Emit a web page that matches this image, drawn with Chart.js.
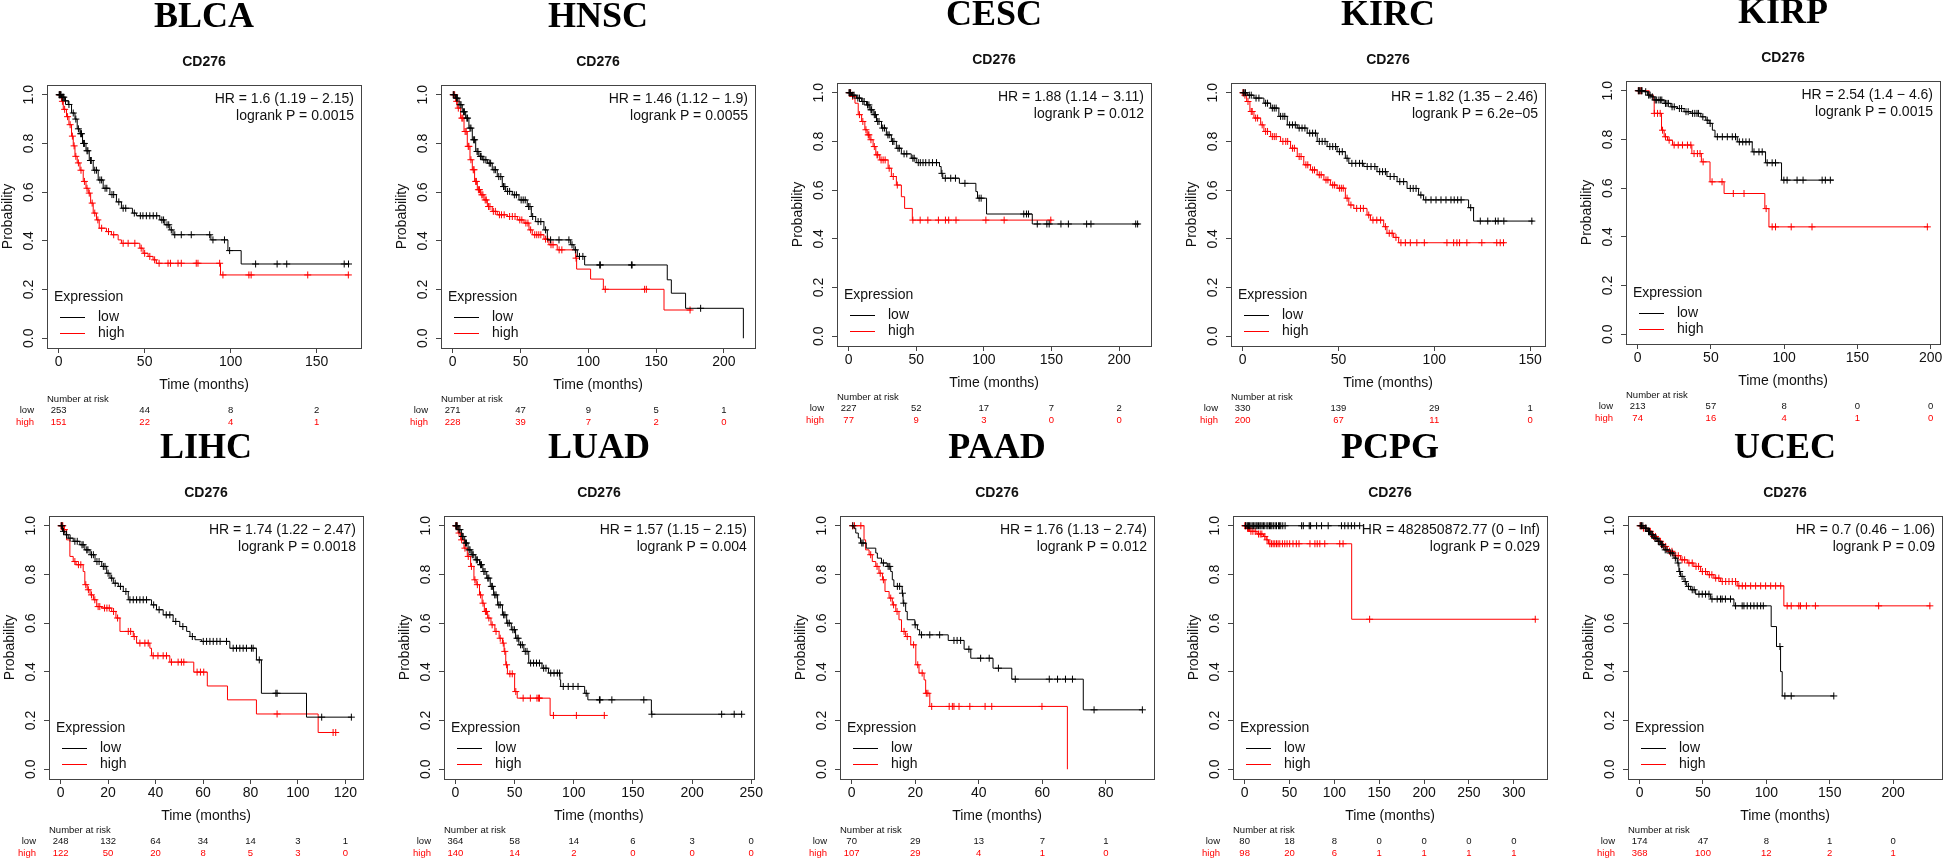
<!DOCTYPE html>
<html>
<head>
<meta charset="utf-8">
<title>CD276 survival</title>
<script src="https://cdn.jsdelivr.net/npm/chart.js@4/dist/chart.umd.min.js"></script>
<style>
  body { margin: 0; background: #fff; width: 1944px; height: 859px; overflow: hidden; position: relative; }
  .panel { position: absolute; }
</style>
</head>
<body>
<script>
// ---- data ----
// each curve row: [time, survival after that time, ...censor times on that level]
const cancers = ['BLCA', 'HNSC', 'CESC', 'KIRC', 'KIRP', 'LIHC', 'LUAD', 'PAAD', 'PCPG', 'UCEC'];
const gene = 'CD276';
const hrLabels = [
  'HR = 1.6 (1.19 \u2212 2.15)', 'HR = 1.46 (1.12 \u2212 1.9)', 'HR = 1.88 (1.14 \u2212 3.11)',
  'HR = 1.82 (1.35 \u2212 2.46)', 'HR = 2.54 (1.4 \u2212 4.6)', 'HR = 1.74 (1.22 \u2212 2.47)',
  'HR = 1.57 (1.15 \u2212 2.15)', 'HR = 1.76 (1.13 \u2212 2.74)', 'HR = 482850872.77 (0 \u2212 Inf)',
  'HR = 0.7 (0.46 \u2212 1.06)'
];
const pLabels = [
  'logrank P = 0.0015', 'logrank P = 0.0055', 'logrank P = 0.012', 'logrank P = 6.2e\u221205',
  'logrank P = 0.0015', 'logrank P = 0.0018', 'logrank P = 0.004', 'logrank P = 0.012',
  'logrank P = 0.029', 'logrank P = 0.09'
];
const timeTicks = [
  [0, 50, 100, 150], [0, 50, 100, 150, 200], [0, 50, 100, 150, 200], [0, 50, 100, 150],
  [0, 50, 100, 150, 200], [0, 20, 40, 60, 80, 100, 120], [0, 50, 100, 150, 200, 250],
  [0, 20, 40, 60, 80], [0, 50, 100, 150, 200, 250, 300], [0, 50, 100, 150, 200]
];
const riskLow = [
  [253, 44, 8, 2], [271, 47, 9, 5, 1], [227, 52, 17, 7, 2], [330, 139, 29, 1],
  [213, 57, 8, 0, 0], [248, 132, 64, 34, 14, 3, 1], [364, 58, 14, 6, 3, 0],
  [70, 29, 13, 7, 1], [80, 18, 8, 0, 0, 0, 0], [174, 47, 8, 1, 0]
];
const riskHigh = [
  [151, 22, 4, 1], [228, 39, 7, 2, 0], [77, 9, 3, 0, 0], [200, 67, 11, 0],
  [74, 16, 4, 1, 0], [122, 50, 20, 8, 5, 3, 0], [140, 14, 2, 0, 0, 0],
  [107, 29, 4, 1, 0], [98, 20, 6, 1, 1, 1, 1], [368, 100, 12, 2, 1]
];
const yTicks = [0, 0.2, 0.4, 0.6, 0.8, 1];

const blcaLow = [
  [0, 1, 0.3, 0.6, 1, 1.4], [1.7, 0.99, 2, 2.5, 3], [3.5, 0.975, 4], [5.6, 0.96, 6],
  [7.5, 0.925, 8.5], [9.5, 0.9, 10], [10.8, 0.86, 11.5], [12.4, 0.84, 12.8, 13.3],
  [13.9, 0.8, 14.5, 15], [15.9, 0.77, 16.5, 17], [17.8, 0.73, 18.5, 19], [20.1, 0.69, 21, 22],
  [23, 0.65, 24, 25], [25.9, 0.616, 27, 28], [29.8, 0.59, 31, 32], [33.6, 0.56, 35],
  [36.5, 0.534, 37.5, 39], [42.9, 0.514, 44], [45.2, 0.503, 47.5, 49, 51, 53, 55, 57],
  [58.8, 0.486, 60, 61], [61.7, 0.466, 63, 64], [64.6, 0.445, 65.5],
  [66.5, 0.425, 67.5, 71.3, 77.1, 87.8], [88.5, 0.404, 89.7, 96.4], [98.4, 0.36, 99.4],
  [106.1, 0.305, 114.5, 127, 132.6, 166, 168.5], [169, 0.305]
];
const blcaHigh = [
  [0, 1, 0.5, 1], [1.7, 0.973, 2.2], [2.7, 0.94, 3.5], [4.6, 0.91, 5.2], [6, 0.877, 6.7],
  [7.5, 0.83, 8], [8.5, 0.79, 9], [9.5, 0.747, 10], [10.8, 0.72, 11.5], [12.4, 0.69, 13],
  [14.3, 0.644, 15], [15.9, 0.616, 16.5], [17.2, 0.596, 17.8], [18.6, 0.555, 19.5],
  [20.1, 0.514, 21], [22, 0.486, 22.8], [23.6, 0.452, 25], [27.8, 0.438, 29], [30.7, 0.425, 32],
  [34.6, 0.404], [36.5, 0.39, 37.5, 40.4, 44.3], [47.2, 0.37, 48], [49.1, 0.349, 50],
  [52, 0.336, 53], [54.9, 0.322, 55.8], [56.8, 0.308, 58.4, 63.6, 65, 69.4, 71.3, 80, 81, 93.6],
  [94.1, 0.26, 95.5, 110.6, 111.9, 144.8, 168.4], [168.9, 0.26]
];
const hnscLow = [
  [0, 1, 0.5, 1], [2.2, 0.986, 2.8, 3.5], [4.7, 0.959, 5.5, 6.2], [7.1, 0.93, 8, 8.7],
  [9.6, 0.904, 10.5, 11], [12, 0.863, 12.8, 13.5], [14.5, 0.815, 15.5, 16.2], [17, 0.767, 18, 18.7],
  [19.4, 0.747, 20.5, 21], [21.9, 0.733, 23, 24.5], [25.6, 0.719, 27, 28], [29.2, 0.692, 30.5, 31.5],
  [32.9, 0.664, 34, 35.5], [36.6, 0.623, 37.5, 38.5], [39.1, 0.603, 40.5, 42], [44, 0.589, 45.5, 47],
  [48.9, 0.568, 50.5, 52, 53.5], [55, 0.541, 56, 57], [58, 0.5, 59], [61.2, 0.479, 63, 65],
  [67.3, 0.445, 68.5], [69.8, 0.404, 72.2, 78.4, 85.7], [87, 0.384, 88], [89.4, 0.363, 90.5],
  [91.9, 0.336, 93.5, 96], [97.3, 0.301, 108.4, 108.9, 131.8, 132.3], [158.2, 0.24], [161.2, 0.185],
  [171.7, 0.123, 182.8], [214.3, 0]
];
const hnscHigh = [
  [0, 1, 0.5, 1.5], [2.2, 0.973, 3], [3.4, 0.945, 4.2], [5.9, 0.904, 6.8, 7.5], [8.4, 0.849, 9.2, 10],
  [10.8, 0.788, 11.5, 12], [12.8, 0.733, 13.5], [14.5, 0.692, 15.2, 15.8], [16.2, 0.644, 17, 17.5],
  [18.2, 0.61, 19, 19.8], [20.6, 0.589, 21.5, 22.3], [23.1, 0.568, 24, 24.8], [25.6, 0.541, 26.5, 27.5],
  [29.2, 0.521, 30, 31.5], [32.9, 0.507, 34.5, 36, 38], [40.3, 0.5, 42, 44, 46], [47.7, 0.486, 49.5, 51],
  [52.6, 0.473, 54, 55.5], [56.3, 0.445, 57.5], [58.7, 0.425, 60.5, 62, 63.5, 65], [67.3, 0.407, 68.5, 70],
  [71, 0.384, 72.5, 74], [77.1, 0.363, 78.5, 80.5], [90.7, 0.329, 91], [91.4, 0.284], [101.7, 0.243],
  [111.1, 0.201, 112.5, 141.5, 142.8], [155.8, 0.116, 175], [175.9, 0.116]
];
const cescLow = [
  [0, 1, 0.3, 0.8, 1.3], [2.2, 0.99, 3, 4], [5.9, 0.978, 6.8, 8], [9.6, 0.964, 10.5, 11.5],
  [13.2, 0.95, 14, 15], [15.7, 0.93, 16.5, 17], [18.1, 0.91, 19, 19.8], [20.6, 0.882, 21.5, 22.5],
  [24.3, 0.855, 25.2, 26.5], [27.9, 0.827, 29, 30], [31.6, 0.8, 32.5, 33.5], [35.3, 0.772, 36.5, 37.5],
  [39, 0.749, 41, 43], [46.3, 0.731, 47.5, 48.5], [50, 0.713, 51.5, 53, 55, 57, 59.5, 62, 65],
  [67.2, 0.697], [68.4, 0.669, 69], [69.6, 0.649, 71.5, 75.5, 79], [81.9, 0.628, 86], [94.1, 0.594],
  [95.3, 0.567, 96.5, 98], [102, 0.502, 129.5, 131.5, 133],
  [135.8, 0.461, 139.5, 146.6, 148.3, 157, 162.5, 176, 179.2, 212.3, 213.7], [215, 0.461]
];
const cescHigh = [
  [0, 1, 0.5, 1.5], [2.2, 0.985, 3], [4.7, 0.957], [7.1, 0.91, 8], [9.6, 0.882, 10.5],
  [12, 0.848, 12.8], [13.7, 0.827, 14.5, 15], [15.7, 0.807, 16.5], [18.1, 0.779, 19],
  [20.1, 0.745, 21, 21.5], [23, 0.724, 24, 25.5, 27], [29.2, 0.69, 30], [31.6, 0.656, 33],
  [35.3, 0.621, 36], [39, 0.573], [41.4, 0.525],
  [47.1, 0.477, 47.5, 52.9, 58.6, 66.4, 71.6, 74, 79.4, 101.5, 115, 149.5], [150.5, 0.477]
];
const kircLow = [
  [0, 1, 0.3, 0.8, 1.5], [2.4, 0.99, 3.5, 4.5], [5.9, 0.978, 7, 8.5], [11.1, 0.957, 12, 13],
  [14.6, 0.937, 15.5, 16.5, 17.5], [18.9, 0.903, 19.8, 21, 22], [23.3, 0.868, 24.5, 26, 27.5],
  [28.5, 0.855, 29.5, 31, 32.5], [33.7, 0.834, 35, 36.5, 38], [38.9, 0.8, 40, 41.5, 43],
  [44.1, 0.779, 45.5, 47, 48.5], [49.3, 0.758, 50.5, 52], [53.6, 0.731, 54.5],
  [55.4, 0.71, 57, 59, 61, 62.5], [63.2, 0.697, 65, 67, 69], [70.1, 0.676, 71.5, 73, 74.5],
  [75.3, 0.656, 77, 79], [80.6, 0.635, 82, 84], [85.8, 0.607, 87.5, 89, 90.5], [91.8, 0.58, 93],
  [94.4, 0.56, 95.6, 98.3, 100.9, 103.5, 106.1, 108.7, 110.4, 112.2, 114], [117.9, 0.528, 119],
  [120.5, 0.473, 124, 127.9, 131.9, 133.3, 136.3, 150.9], [151.7, 0.473]
];
const kircHigh = [
  [0, 1, 0.2, 0.5], [0.7, 0.99, 1.2], [2.1, 0.964, 2.8], [3.8, 0.923, 4.5, 5], [5.9, 0.896, 6.8, 7.8],
  [9.4, 0.868, 10.2], [11.1, 0.841, 12, 13], [14.6, 0.82, 15.5, 16.5, 17.5], [19.8, 0.8, 21, 22.5, 23.5],
  [25, 0.772, 26, 27], [28.5, 0.738, 29.5, 30.5], [31.9, 0.704, 33, 34], [35.4, 0.683, 36.5, 37.5],
  [38.9, 0.663, 40, 41], [42.4, 0.642, 43.5, 44.5], [45.8, 0.621, 47, 48], [49.3, 0.608, 50.5, 51.5, 52.5],
  [53.6, 0.567, 54.5], [55.4, 0.539, 56.5], [58, 0.525, 59.5, 61.5, 63], [64.9, 0.498, 65.8],
  [66.7, 0.477, 68, 70, 72], [73.6, 0.45, 74.5], [75.3, 0.423, 76.5, 78], [78.8, 0.406, 80],
  [81.4, 0.384, 82.6, 84.9, 87.5, 90.9, 94.8, 106.6, 110.1, 111.8, 113.2, 117, 124.8, 132.6, 134.4, 136.1],
  [137, 0.384]
];
const kirpLow = [
  [0, 1, 0.5, 1, 1.5, 2.5, 3], [4.5, 0.996, 5.5], [6.8, 0.982, 7.5, 8.5], [9.1, 0.975, 10],
  [11.3, 0.962, 12, 13, 14.5, 15.5, 16.5], [18.1, 0.948, 19, 20, 21], [22.7, 0.934, 23.5, 25],
  [27.2, 0.927, 28.5, 30], [31.7, 0.914, 33, 34.5], [36.3, 0.907, 37.5, 39, 40.5, 41.5],
  [43.1, 0.893, 44.5], [46.5, 0.879, 47.5], [48.8, 0.866, 49.5], [51, 0.838],
  [52.8, 0.811, 54.4, 57.8, 61.2, 64.6, 66.8], [68, 0.79, 69.4, 71.7, 73.9, 76.2],
  [78.2, 0.749, 79.4, 82.8, 85], [87.3, 0.704, 88.4, 91.8, 94.1],
  [98.2, 0.633, 99.8, 102, 108.8, 112.9, 125.9, 128.1, 131.5], [133.8, 0.633]
];
const kirpHigh = [
  [0, 1, 0.5, 1.8, 2.7], [7.9, 0.982], [10.7, 0.962], [11.3, 0.907, 11.4, 13.6, 15.4],
  [16.3, 0.838, 17], [18.1, 0.811, 19], [20.4, 0.797, 21.5], [23.8, 0.777, 24.9, 27.7, 30.6, 34, 36.3],
  [37, 0.742, 38.5, 40.8, 42.6], [43.5, 0.708, 44.7], [49.4, 0.626, 50.8, 57.6], [59, 0.578, 65.3, 72.6],
  [86.8, 0.516, 87.7], [89.6, 0.441, 91.8, 94.1, 104.8, 119, 197.7], [198.4, 0.441]
];
const lihcLow = [
  [0, 1, 0.3, 0.6], [0.8, 0.977, 1.2], [1.8, 0.963, 2.5], [3.2, 0.949, 4], [5.3, 0.936, 6, 7],
  [8.1, 0.922, 9, 9.5], [10.2, 0.901, 11, 11.5], [12.4, 0.881, 13, 13.8], [14.5, 0.853, 15.3, 16.2],
  [17.3, 0.833, 18, 18.7], [19.4, 0.805, 20], [20.8, 0.785, 21.5], [22.2, 0.764, 23], [24.3, 0.751, 25.2],
  [26.4, 0.73, 27.5], [28.5, 0.696, 29.2, 30.6, 32, 33.4, 34.8, 36.2], [38.3, 0.675, 39.2],
  [40.4, 0.655, 41.5], [43.2, 0.634, 44.5, 46], [47.4, 0.607, 48.5], [50.2, 0.586, 51.5], [53.1, 0.566],
  [54.5, 0.545, 55.5], [56.6, 0.532], [59.4, 0.525, 60.1, 61.5, 62.9, 64.3, 65.8, 67.2, 69.9],
  [71.3, 0.497, 72.7, 74.1, 75.5, 76.9, 78.3, 80.4, 81.1], [82.5, 0.449, 83.7], [84.6, 0.312, 90.7, 91.2],
  [103.6, 0.214, 110], [122.5, 0.214, 122.5]
];
const lihcHigh = [
  [0, 1, 0.2, 0.6, 0.9], [1.1, 0.984, 1.6], [2.5, 0.942], [3.9, 0.874], [5.3, 0.853, 6],
  [6.5, 0.84, 7.5, 8.5], [9.5, 0.812], [10.2, 0.758, 10.6], [11.2, 0.737, 11.7], [12.4, 0.716, 13],
  [13.8, 0.696, 14.4], [15.2, 0.668, 15.8, 16.5], [17.3, 0.662, 18.5, 19.5, 20.5], [21.5, 0.648, 22.3],
  [23.3, 0.621, 24], [25, 0.566, 28.5, 29.5], [30.6, 0.545, 31], [32, 0.518, 33.4, 35.5, 36.9],
  [37.6, 0.497], [38.3, 0.466, 39, 41, 43.2, 44.6], [46, 0.44, 46.7, 49.5, 50.9, 51.9],
  [56.1, 0.399, 57.5, 58.9, 60.3], [61.8, 0.342], [70.3, 0.285], [82.5, 0.227, 91.2],
  [108.5, 0.151, 114.8, 115.9], [116.5, 0.151]
];
const luadLow = [
  [0, 1, 0.3, 0.8, 1.4], [2.2, 0.984, 3, 3.8], [5, 0.956, 5.8, 6.5], [7.8, 0.929, 8.5, 9.3],
  [10.6, 0.901, 11.5, 12.3], [13.3, 0.881, 14.2, 15], [16.7, 0.86, 17.6, 18.5], [20.3, 0.84, 21.2, 22],
  [23.1, 0.812, 24, 25], [26.4, 0.785, 27.3, 28.2], [29.4, 0.751, 30.3, 31.2], [32.2, 0.716, 33.2, 34.3],
  [35.6, 0.675, 36.6, 37.8], [39.7, 0.634, 40.7, 41.8], [43.3, 0.6, 44.2, 45.5], [47.2, 0.573, 48.5, 49.8],
  [50.8, 0.538, 52, 53], [53.6, 0.511, 55, 56.5], [57.8, 0.484, 59, 60.5], [61.9, 0.436, 63.5, 66, 68.5, 71],
  [73.1, 0.415, 74.5, 76.5], [78.6, 0.395, 80.5, 83.3, 86.1, 88], [88.3, 0.367],
  [88.9, 0.34, 91.1, 95.3, 99.4, 103.6], [109.2, 0.312, 110.5], [111.9, 0.285, 121.7, 122.2, 132.2, 159.2],
  [165.6, 0.226, 166, 225, 235.6, 241.9], [242.5, 0.226]
];
const luadHigh = [
  [0, 1, 0.3, 0.8, 1.3], [2.2, 0.97, 3], [4.4, 0.942, 5.2], [7.2, 0.908, 8], [10, 0.874, 10.8],
  [12.8, 0.833, 13.5], [15.6, 0.778, 16.4], [17.5, 0.758, 18.5], [20.3, 0.716, 21.2], [22.5, 0.682, 23.3],
  [24.4, 0.648, 25.3, 26.2], [27.2, 0.621, 28.2], [30, 0.593, 31], [33.3, 0.566, 34.3], [36.9, 0.538, 37.8],
  [39.7, 0.518, 40.4], [41.1, 0.484, 41.7], [42.5, 0.429, 43.2], [43.9, 0.392, 46, 48], [50, 0.319, 51],
  [52.2, 0.292, 57.2, 63.3, 68.9, 70.3, 71], [80, 0.221, 82.8, 102.2, 125.8], [125.8, 0.221]
];
const paadLow = [
  [0, 1, 0.4], [0.7, 0.99], [1.3, 0.97], [2.1, 0.95], [2.8, 0.929, 3.2, 3.6], [4.6, 0.908],
  [7.6, 0.888], [8.1, 0.867], [9.4, 0.847, 10], [11.2, 0.833, 11.5, 12], [12.3, 0.812], [12.8, 0.778],
  [13.3, 0.751, 14.4, 15.1], [15.9, 0.723, 16], [16.2, 0.682, 16.4], [17, 0.648], [17.5, 0.614],
  [19.9, 0.593, 20], [20.7, 0.573], [21.4, 0.552, 22, 24.6, 27.7], [30.4, 0.529, 32.2, 33.2, 34.3],
  [35.4, 0.493, 36.9], [37.5, 0.456, 40.6, 43.3], [44.5, 0.415, 46.2],
  [50.4, 0.37, 51.5, 62.2, 64.8, 67.3, 69.5], [72.9, 0.244, 76.3, 91.5], [91.5, 0.244]
];
const paadHigh = [
  [0, 1, 0.3, 0.9, 2.9], [3.9, 0.942], [4.4, 0.901], [5.5, 0.881, 6], [6.5, 0.853], [7.6, 0.833, 8],
  [8.6, 0.805, 9], [9.7, 0.778, 10], [10.5, 0.73], [11.8, 0.703, 12.3], [12.8, 0.675, 13.2],
  [13.9, 0.648, 14.3], [14.9, 0.614], [15.7, 0.566, 16.5], [17, 0.545, 17.5], [18.6, 0.511, 19.5],
  [20.2, 0.429, 20.8], [21.2, 0.395, 22.2], [22.8, 0.367], [23.3, 0.312, 23.5, 24],
  [24.6, 0.258, 25.2, 30.7, 31.7, 32.2, 33.8, 37.2, 42, 44.1, 59.9], [67.9, 0]
];
const pcpgLow = [
  [0, 1, 1, 2.6, 3.5, 4.4, 5.5, 7, 8.5, 10, 11.5, 12.9, 14, 15.5, 17, 18.1, 19.5, 21.1, 22.5, 24.8,
   26, 27.7, 29, 30.3, 32, 34, 35.5, 37.7, 39, 40.3, 42.5, 45.1, 63.5, 65.4, 72, 73.5, 80.2, 85.7,
   93.1, 107.9, 111.6, 115.3, 119, 122.6, 128.2],
  [128.2, 1]
];
const pcpgHigh = [
  [0, 1, 0.2, 1.1], [1.8, 0.99, 3.3, 4.4], [5.5, 0.977, 7, 9.2, 11.8], [13.7, 0.966, 15.5, 17.4, 19.2],
  [21.1, 0.956, 22.5], [24, 0.942, 25],
  [26.6, 0.926, 28.1, 30, 31.8, 33.6, 35.5, 37.3, 39.2, 42.1, 44.7, 47.3, 50.2, 53.9, 57.6, 60.6,
   72.8, 78.3, 80.9, 83.8, 89.3, 106, 109.7],
  [119.3, 0.616, 139.3, 323.9], [324, 0.616]
];
const ucecLow = [
  [0, 1, 0.5, 1.5, 2.5], [3.4, 0.99, 4.5, 5.2], [6, 0.977, 7, 7.8], [8.7, 0.963, 9.5, 10.3],
  [11.3, 0.949, 12, 13], [13.9, 0.936, 14.7, 15.5], [16.6, 0.922, 17.3, 18.2], [19.2, 0.901, 20.2, 21.5],
  [23.1, 0.888, 24.5, 25.8], [27.1, 0.867, 28.2], [29.7, 0.847, 30.3], [31, 0.812, 31.6],
  [32.3, 0.792, 33.5], [35, 0.771, 36], [37.1, 0.751, 38.5], [40.2, 0.737, 41.5, 43],
  [44.2, 0.719, 46.8, 49.4, 52, 54.7], [56, 0.699, 57.1, 61.2, 63.8, 65.1, 67.7, 71.7],
  [74.4, 0.671, 75.7, 80.9, 82.3, 84.9, 87.6, 90.2, 92.8, 95.5, 97.6], [103.8, 0.586],
  [108, 0.504, 110.7], [111.2, 0.401], [112.5, 0.301, 114.6, 119.6, 153.2], [153.2, 0.301]
];
const ucecHigh = [
  [0, 1, 0.5, 1.3], [2.1, 0.99, 3, 4.5], [6, 0.977, 7, 8.5], [10, 0.956, 11, 12.5],
  [13.9, 0.936, 15, 16.5], [17.9, 0.915, 19, 20.5], [21.8, 0.895, 23.5, 25.5], [27.1, 0.877, 28.5, 30.5],
  [32.3, 0.86, 33.5, 35.5], [37.6, 0.847, 38.9, 41.5], [42.8, 0.833, 44.5, 46.5], [48.1, 0.812, 49.5, 52],
  [53.4, 0.799, 55, 57], [58.6, 0.785, 60, 62.5], [63.9, 0.771, 65.2, 67.9, 70.5, 73.1, 75.7],
  [77, 0.753, 78.3, 81, 83.6, 87.6, 91.5, 95.5, 99.4, 103.4, 107.3, 111.3],
  [113.8, 0.671, 116.4, 119.6, 125.6, 126.9, 131.6, 138.7, 188.6, 229], [229.4, 0.671]
];

const lowCurves = [blcaLow, hnscLow, cescLow, kircLow, kirpLow, lihcLow, luadLow, paadLow, pcpgLow, ucecLow];
const highCurves = [blcaHigh, hnscHigh, cescHigh, kircHigh, kirpHigh, lihcHigh, luadHigh, paadHigh, pcpgHigh, ucecHigh];

// ---- page layout (plot box corners, px) ----
const boxLeft = [47, 441, 837, 1231, 1626, 49, 444, 840, 1233, 1628];
const boxTop = [85, 85, 83, 83, 81, 516, 516, 516, 516, 516];
const AXIS_W = 47, TOP_H = 85, CANVAS_W = 367, CANVAS_H = 430;

const SANS = '"Liberation Sans", Arial, sans-serif';
const INK = '#111111';
const RED = '#ff0000';

function linePoints(rows) {
  return rows.map(r => ({ x: r[0], y: r[1] }));
}

function censorPoints(rows) {
  const pts = [];
  rows.forEach(r => r.slice(2).forEach(t => pts.push({ x: t, y: r[1] })));
  return pts;
}

// box round the plot region, like R's bty="o"
const boxPlugin = {
  id: 'plotBox',
  beforeDatasetsDraw(chart) {
    const a = chart.chartArea, ctx = chart.ctx;
    ctx.save();
    ctx.strokeStyle = '#444';
    ctx.lineWidth = 1;
    ctx.strokeRect(Math.round(a.left) + 0.5, Math.round(a.top) + 0.5,
                   Math.round(a.right - a.left), Math.round(a.bottom - a.top));
    ctx.restore();
  }
};

// HR text, legend and number-at-risk table
const kmTextPlugin = {
  id: 'kmText',
  afterDraw(chart, args, o) {
    const ctx = chart.ctx, a = chart.chartArea, x = chart.scales.x;
    ctx.save();
    ctx.textBaseline = 'middle';

    ctx.font = '14px ' + SANS;
    ctx.fillStyle = INK;
    ctx.textAlign = 'right';
    ctx.fillText(o.hr, a.right - 7, a.top + 14);
    ctx.fillText(o.p, a.right - 7, a.top + 31);

    // legend
    ctx.textAlign = 'left';
    ctx.fillText('Expression', a.left + 7, a.bottom - 51);
    const ds = chart.data.datasets.filter(d => d.isCurve);
    ds.forEach((d, i) => {
      const yy = a.bottom - 31 + i * 16;
      ctx.strokeStyle = d.borderColor;
      ctx.lineWidth = 1;
      ctx.beginPath();
      ctx.moveTo(a.left + 13, yy + 0.5);
      ctx.lineTo(a.left + 38, yy + 0.5);
      ctx.stroke();
      ctx.fillStyle = INK;
      ctx.fillText(d.label, a.left + 51, yy);
    });

    // number at risk
    ctx.font = '9.5px ' + SANS;
    ctx.fillStyle = INK;
    ctx.fillText('Number at risk', a.left, a.bottom + 51);
    ctx.textAlign = 'right';
    ctx.fillText('low', a.left - 13, a.bottom + 62);
    ctx.fillStyle = RED;
    ctx.fillText('high', a.left - 13, a.bottom + 74);
    ctx.textAlign = 'center';
    o.ticks.forEach((t, i) => {
      const px = x.getPixelForValue(t);
      ctx.fillStyle = INK;
      ctx.fillText(String(o.low[i]), px, a.bottom + 62);
      ctx.fillStyle = RED;
      ctx.fillText(String(o.high[i]), px, a.bottom + 74);
    });
    ctx.restore();
  }
};

function drawPanel(i) {
  const div = document.createElement('div');
  div.className = 'panel';
  div.style.left = (boxLeft[i] - AXIS_W) + 'px';
  div.style.top = (boxTop[i] - TOP_H) + 'px';
  const canvas = document.createElement('canvas');
  canvas.width = CANVAS_W;
  canvas.height = CANVAS_H;
  div.appendChild(canvas);
  document.body.appendChild(div);

  const low = lowCurves[i], high = highCurves[i];
  const tMax = Math.max(low[low.length - 1][0], high[high.length - 1][0]);
  const ticks = timeTicks[i];

  new Chart(canvas, {
    type: 'line',
    data: {
      datasets: [
        { label: 'low', isCurve: true, data: linePoints(low), borderColor: '#000', borderWidth: 1,
          pointRadius: 0, stepped: 'before', fill: false },
        { label: 'low censored', data: censorPoints(low), borderColor: '#000', showLine: false,
          pointStyle: 'cross', pointRadius: 3.5, pointBorderWidth: 1 },
        { label: 'high', isCurve: true, data: linePoints(high), borderColor: RED, borderWidth: 1,
          pointRadius: 0, stepped: 'before', fill: false },
        { label: 'high censored', data: censorPoints(high), borderColor: RED, showLine: false,
          pointStyle: 'cross', pointRadius: 3.5, pointBorderWidth: 1 }
      ]
    },
    options: {
      responsive: false,
      animation: false,
      events: [],
      layout: { padding: { left: 0, right: 6, top: 0, bottom: 32 } },
      scales: {
        x: {
          type: 'linear',
          min: -0.04 * tMax,
          max: 1.04 * tMax,
          afterBuildTicks: s => { s.ticks = ticks.map(v => ({ value: v })); },
          afterFit: s => { s.height = 50; },
          ticks: { font: { family: SANS, size: 14 }, color: INK, padding: 1, maxRotation: 0,
                   autoSkip: false, callback: v => String(v) },
          grid: { drawOnChartArea: false, drawTicks: true, tickLength: 5, color: '#444' },
          border: { display: false },
          title: { display: true, text: 'Time (months)', color: INK,
                   font: { family: SANS, size: 14 }, padding: { top: 0, bottom: 4 } }
        },
        y: {
          min: -0.04,
          max: 1.04,
          afterBuildTicks: s => { s.ticks = yTicks.map(v => ({ value: v })); },
          afterFit: s => { s.width = AXIS_W; },
          ticks: { font: { family: SANS, size: 14 }, color: INK, padding: 3, minRotation: 90,
                   maxRotation: 90, crossAlign: 'center', autoSkip: false, callback: v => v.toFixed(1) },
          grid: { drawOnChartArea: false, drawTicks: true, tickLength: 5, color: '#444' },
          border: { display: false },
          title: { display: true, text: 'Probability', color: INK,
                   font: { family: SANS, size: 14 }, padding: { top: 0, bottom: 0 } }
        }
      },
      plugins: {
        legend: { display: false },
        tooltip: { enabled: false },
        title: { display: true, text: cancers[i], color: '#000', fullSize: false,
                 font: { family: '"Liberation Serif", "Times New Roman", serif', size: 36, weight: 'bold', lineHeight: 1 },
                 padding: { top: 0, bottom: 0 } },
        subtitle: { display: true, text: gene, color: INK, fullSize: false,
                    font: { family: SANS, size: 14, weight: 'bold', lineHeight: 1 },
                    padding: { top: 19, bottom: 16 } },
        kmText: { hr: hrLabels[i], p: pLabels[i], ticks: ticks, low: riskLow[i], high: riskHigh[i] }
      }
    },
    plugins: [boxPlugin, kmTextPlugin]
  });
}

cancers.forEach((c, i) => drawPanel(i));
</script>
</body>
</html>
